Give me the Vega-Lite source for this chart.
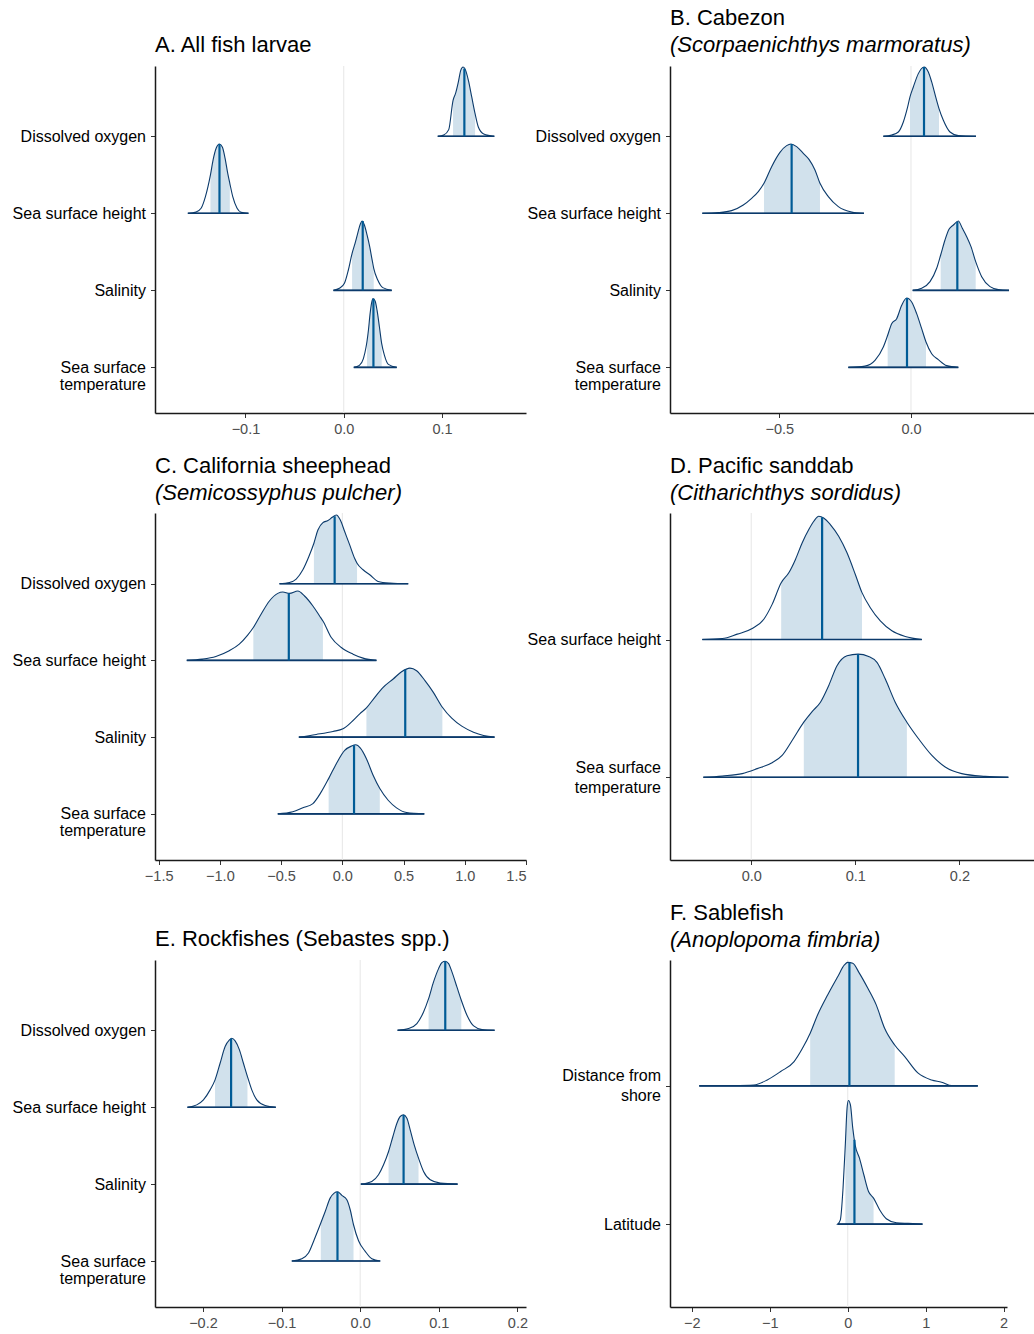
{
"$schema":"https://vega.github.io/schema/vega-lite/v6.json",
"padding":{"left":12,"top":6,"right":0,"bottom":0},
"background":"white",
"config":{
 "view":{"stroke":null},
 "font":"Liberation Sans",
 "axis":{"grid":false,"domainColor":"#1a1a1a","domainWidth":1.5,"tickColor":"#333333","tickWidth":1,"tickSize":4.5,"labelFont":"Liberation Sans"},
 "axisX":{"labelFontSize":14.5,"labelColor":"#4d4d4d","labelPadding":5},
 "axisY":{"labelFontSize":16,"labelColor":"#000000","labelPadding":5,"labelLineHeight":17},
 "title":{"anchor":"start","frame":"group","font":"Liberation Sans","fontSize":22,"fontWeight":"normal","color":"#000000","subtitleFont":"Liberation Sans","subtitleFontSize":22,"subtitleFontStyle":"italic","subtitleColor":"#000000","subtitlePadding":5,"offset":8}
},
"datasets":{
"curves":[
{"p":"A","k":4,"x":0.0956,"d":0,"in":0},{"p":"A","k":4,"x":0.1017,"d":0.017,"in":0},{"p":"A","k":4,"x":0.1068,"d":0.087,"in":0},{"p":"A","k":4,"x":0.1112,"d":0.468,"in":1},{"p":"A","k":4,"x":0.1139,"d":0.563,"in":1},{"p":"A","k":4,"x":0.1166,"d":0.706,"in":1},{"p":"A","k":4,"x":0.119,"d":0.857,"in":1},{"p":"A","k":4,"x":0.1214,"d":0.9,"in":1},{"p":"A","k":4,"x":0.1237,"d":0.866,"in":1},{"p":"A","k":4,"x":0.1268,"d":0.727,"in":1},{"p":"A","k":4,"x":0.1302,"d":0.511,"in":1},{"p":"A","k":4,"x":0.1336,"d":0.294,"in":1},{"p":"A","k":4,"x":0.1369,"d":0.121,"in":0},{"p":"A","k":4,"x":0.1424,"d":0.03,"in":0},{"p":"A","k":4,"x":0.1532,"d":0,"in":0},
{"p":"A","k":3,"x":-0.1586,"d":0,"in":0},{"p":"A","k":3,"x":-0.1502,"d":0.017,"in":0},{"p":"A","k":3,"x":-0.1451,"d":0.065,"in":0},{"p":"A","k":3,"x":-0.1407,"d":0.216,"in":0},{"p":"A","k":3,"x":-0.1356,"d":0.498,"in":1},{"p":"A","k":3,"x":-0.1329,"d":0.693,"in":1},{"p":"A","k":3,"x":-0.1298,"d":0.844,"in":1},{"p":"A","k":3,"x":-0.1264,"d":0.9,"in":1},{"p":"A","k":3,"x":-0.1234,"d":0.857,"in":1},{"p":"A","k":3,"x":-0.1207,"d":0.714,"in":1},{"p":"A","k":3,"x":-0.118,"d":0.519,"in":1},{"p":"A","k":3,"x":-0.1159,"d":0.39,"in":1},{"p":"A","k":3,"x":-0.1129,"d":0.216,"in":0},{"p":"A","k":3,"x":-0.1085,"d":0.065,"in":0},{"p":"A","k":3,"x":-0.1044,"d":0.013,"in":0},{"p":"A","k":3,"x":-0.0969,"d":0,"in":0},
{"p":"A","k":2,"x":-0.0105,"d":0,"in":0},{"p":"A","k":2,"x":-0.0044,"d":0.026,"in":0},{"p":"A","k":2,"x":0.0007,"d":0.091,"in":0},{"p":"A","k":2,"x":0.0047,"d":0.264,"in":0},{"p":"A","k":2,"x":0.0085,"d":0.481,"in":1},{"p":"A","k":2,"x":0.0115,"d":0.61,"in":1},{"p":"A","k":2,"x":0.0142,"d":0.74,"in":1},{"p":"A","k":2,"x":0.0169,"d":0.861,"in":1},{"p":"A","k":2,"x":0.0186,"d":0.9,"in":1},{"p":"A","k":2,"x":0.021,"d":0.848,"in":1},{"p":"A","k":2,"x":0.0237,"d":0.719,"in":1},{"p":"A","k":2,"x":0.0264,"d":0.567,"in":1},{"p":"A","k":2,"x":0.0292,"d":0.372,"in":1},{"p":"A","k":2,"x":0.0305,"d":0.286,"in":1},{"p":"A","k":2,"x":0.0346,"d":0.134,"in":0},{"p":"A","k":2,"x":0.0397,"d":0.035,"in":0},{"p":"A","k":2,"x":0.0488,"d":0,"in":0},
{"p":"A","k":1,"x":0.0102,"d":0,"in":0},{"p":"A","k":1,"x":0.0159,"d":0.026,"in":0},{"p":"A","k":1,"x":0.02,"d":0.113,"in":0},{"p":"A","k":1,"x":0.0227,"d":0.264,"in":0},{"p":"A","k":1,"x":0.0237,"d":0.342,"in":1},{"p":"A","k":1,"x":0.0251,"d":0.481,"in":1},{"p":"A","k":1,"x":0.0268,"d":0.697,"in":1},{"p":"A","k":1,"x":0.0285,"d":0.848,"in":1},{"p":"A","k":1,"x":0.0298,"d":0.892,"in":1},{"p":"A","k":1,"x":0.0319,"d":0.861,"in":1},{"p":"A","k":1,"x":0.0339,"d":0.74,"in":1},{"p":"A","k":1,"x":0.0363,"d":0.524,"in":1},{"p":"A","k":1,"x":0.0386,"d":0.307,"in":1},{"p":"A","k":1,"x":0.0414,"d":0.156,"in":0},{"p":"A","k":1,"x":0.0454,"d":0.039,"in":0},{"p":"A","k":1,"x":0.0539,"d":0,"in":0},

{"p":"B","k":4,"x":-0.1051,"d":0,"in":0},{"p":"B","k":4,"x":-0.0734,"d":0.017,"in":0},{"p":"B","k":4,"x":-0.0481,"d":0.056,"in":0},{"p":"B","k":4,"x":-0.0291,"d":0.186,"in":0},{"p":"B","k":4,"x":-0.0127,"d":0.381,"in":0},{"p":"B","k":4,"x":-0.0038,"d":0.511,"in":1},{"p":"B","k":4,"x":0.0089,"d":0.641,"in":1},{"p":"B","k":4,"x":0.0278,"d":0.814,"in":1},{"p":"B","k":4,"x":0.0494,"d":0.9,"in":1},{"p":"B","k":4,"x":0.0658,"d":0.835,"in":1},{"p":"B","k":4,"x":0.0785,"d":0.706,"in":1},{"p":"B","k":4,"x":0.0937,"d":0.511,"in":1},{"p":"B","k":4,"x":0.1063,"d":0.359,"in":1},{"p":"B","k":4,"x":0.1228,"d":0.208,"in":0},{"p":"B","k":4,"x":0.1481,"d":0.056,"in":0},{"p":"B","k":4,"x":0.1797,"d":0.009,"in":0},{"p":"B","k":4,"x":0.2468,"d":0,"in":0},
{"p":"B","k":3,"x":-0.7924,"d":0,"in":0},{"p":"B","k":3,"x":-0.7316,"d":0.009,"in":0},{"p":"B","k":3,"x":-0.681,"d":0.035,"in":0},{"p":"B","k":3,"x":-0.6367,"d":0.108,"in":0},{"p":"B","k":3,"x":-0.6051,"d":0.195,"in":0},{"p":"B","k":3,"x":-0.5797,"d":0.281,"in":0},{"p":"B","k":3,"x":-0.5582,"d":0.39,"in":1},{"p":"B","k":3,"x":-0.5291,"d":0.606,"in":1},{"p":"B","k":3,"x":-0.4975,"d":0.792,"in":1},{"p":"B","k":3,"x":-0.4722,"d":0.879,"in":1},{"p":"B","k":3,"x":-0.4557,"d":0.9,"in":1},{"p":"B","k":3,"x":-0.4342,"d":0.866,"in":1},{"p":"B","k":3,"x":-0.4089,"d":0.779,"in":1},{"p":"B","k":3,"x":-0.3873,"d":0.701,"in":1},{"p":"B","k":3,"x":-0.3646,"d":0.563,"in":1},{"p":"B","k":3,"x":-0.3456,"d":0.39,"in":1},{"p":"B","k":3,"x":-0.3139,"d":0.216,"in":0},{"p":"B","k":3,"x":-0.2759,"d":0.087,"in":0},{"p":"B","k":3,"x":-0.2253,"d":0.017,"in":0},{"p":"B","k":3,"x":-0.1785,"d":0,"in":0},
{"p":"B","k":2,"x":0.0063,"d":0,"in":0},{"p":"B","k":2,"x":0.0405,"d":0.026,"in":0},{"p":"B","k":2,"x":0.0722,"d":0.113,"in":0},{"p":"B","k":2,"x":0.0975,"d":0.286,"in":0},{"p":"B","k":2,"x":0.1127,"d":0.459,"in":1},{"p":"B","k":2,"x":0.1291,"d":0.654,"in":1},{"p":"B","k":2,"x":0.1443,"d":0.792,"in":1},{"p":"B","k":2,"x":0.1608,"d":0.848,"in":1},{"p":"B","k":2,"x":0.1797,"d":0.9,"in":1},{"p":"B","k":2,"x":0.1949,"d":0.805,"in":1},{"p":"B","k":2,"x":0.2114,"d":0.697,"in":1},{"p":"B","k":2,"x":0.2278,"d":0.567,"in":1},{"p":"B","k":2,"x":0.2456,"d":0.372,"in":1},{"p":"B","k":2,"x":0.2684,"d":0.177,"in":0},{"p":"B","k":2,"x":0.3,"d":0.048,"in":0},{"p":"B","k":2,"x":0.3316,"d":0.009,"in":0},{"p":"B","k":2,"x":0.3722,"d":0,"in":0},
{"p":"B","k":1,"x":-0.238,"d":0,"in":0},{"p":"B","k":1,"x":-0.1747,"d":0.017,"in":0},{"p":"B","k":1,"x":-0.1367,"d":0.091,"in":0},{"p":"B","k":1,"x":-0.1051,"d":0.264,"in":0},{"p":"B","k":1,"x":-0.0886,"d":0.416,"in":1},{"p":"B","k":1,"x":-0.0734,"d":0.567,"in":1},{"p":"B","k":1,"x":-0.0544,"d":0.632,"in":1},{"p":"B","k":1,"x":-0.0354,"d":0.805,"in":1},{"p":"B","k":1,"x":-0.0165,"d":0.9,"in":1},{"p":"B","k":1,"x":0.0025,"d":0.848,"in":1},{"p":"B","k":1,"x":0.0215,"d":0.697,"in":1},{"p":"B","k":1,"x":0.0405,"d":0.502,"in":1},{"p":"B","k":1,"x":0.057,"d":0.329,"in":1},{"p":"B","k":1,"x":0.0785,"d":0.177,"in":0},{"p":"B","k":1,"x":0.1038,"d":0.1,"in":0},{"p":"B","k":1,"x":0.1354,"d":0.022,"in":0},{"p":"B","k":1,"x":0.1797,"d":0,"in":0},

{"p":"C","k":4,"x":-0.5137,"d":0,"in":0},{"p":"C","k":4,"x":-0.4317,"d":0.017,"in":0},{"p":"C","k":4,"x":-0.377,"d":0.061,"in":0},{"p":"C","k":4,"x":-0.3224,"d":0.182,"in":0},{"p":"C","k":4,"x":-0.2732,"d":0.355,"in":0},{"p":"C","k":4,"x":-0.2322,"d":0.528,"in":1},{"p":"C","k":4,"x":-0.1995,"d":0.701,"in":1},{"p":"C","k":4,"x":-0.1585,"d":0.797,"in":1},{"p":"C","k":4,"x":-0.1175,"d":0.823,"in":1},{"p":"C","k":4,"x":-0.082,"d":0.866,"in":1},{"p":"C","k":4,"x":-0.0492,"d":0.896,"in":1},{"p":"C","k":4,"x":-0.0164,"d":0.831,"in":1},{"p":"C","k":4,"x":0.0191,"d":0.68,"in":1},{"p":"C","k":4,"x":0.0601,"d":0.506,"in":1},{"p":"C","k":4,"x":0.1011,"d":0.329,"in":1},{"p":"C","k":4,"x":0.1202,"d":0.268,"in":1},{"p":"C","k":4,"x":0.1694,"d":0.182,"in":0},{"p":"C","k":4,"x":0.224,"d":0.117,"in":0},{"p":"C","k":4,"x":0.2923,"d":0.03,"in":0},{"p":"C","k":4,"x":0.388,"d":0.009,"in":0},{"p":"C","k":4,"x":0.5383,"d":0,"in":0},
{"p":"C","k":3,"x":-1.2705,"d":0,"in":0},{"p":"C","k":3,"x":-1.1421,"d":0.017,"in":0},{"p":"C","k":3,"x":-1.0328,"d":0.052,"in":0},{"p":"C","k":3,"x":-0.9235,"d":0.126,"in":0},{"p":"C","k":3,"x":-0.8415,"d":0.212,"in":0},{"p":"C","k":3,"x":-0.7732,"d":0.329,"in":0},{"p":"C","k":3,"x":-0.7268,"d":0.429,"in":1},{"p":"C","k":3,"x":-0.6639,"d":0.602,"in":1},{"p":"C","k":3,"x":-0.5956,"d":0.775,"in":1},{"p":"C","k":3,"x":-0.5273,"d":0.874,"in":1},{"p":"C","k":3,"x":-0.4863,"d":0.892,"in":1},{"p":"C","k":3,"x":-0.4317,"d":0.874,"in":1},{"p":"C","k":3,"x":-0.3634,"d":0.905,"in":1},{"p":"C","k":3,"x":-0.3087,"d":0.84,"in":1},{"p":"C","k":3,"x":-0.2404,"d":0.71,"in":1},{"p":"C","k":3,"x":-0.1858,"d":0.58,"in":1},{"p":"C","k":3,"x":-0.1585,"d":0.515,"in":1},{"p":"C","k":3,"x":-0.0902,"d":0.299,"in":0},{"p":"C","k":3,"x":-0.0082,"d":0.169,"in":0},{"p":"C","k":3,"x":0.0874,"d":0.082,"in":0},{"p":"C","k":3,"x":0.1694,"d":0.03,"in":0},{"p":"C","k":3,"x":0.2787,"d":0,"in":0},
{"p":"C","k":2,"x":-0.3552,"d":0,"in":0},{"p":"C","k":2,"x":-0.2131,"d":0.035,"in":0},{"p":"C","k":2,"x":-0.0765,"d":0.074,"in":0},{"p":"C","k":2,"x":0.0055,"d":0.108,"in":0},{"p":"C","k":2,"x":0.0738,"d":0.195,"in":0},{"p":"C","k":2,"x":0.1421,"d":0.303,"in":0},{"p":"C","k":2,"x":0.1967,"d":0.381,"in":1},{"p":"C","k":2,"x":0.265,"d":0.519,"in":1},{"p":"C","k":2,"x":0.3333,"d":0.649,"in":1},{"p":"C","k":2,"x":0.4153,"d":0.758,"in":1},{"p":"C","k":2,"x":0.4836,"d":0.853,"in":1},{"p":"C","k":2,"x":0.5519,"d":0.9,"in":1},{"p":"C","k":2,"x":0.6066,"d":0.866,"in":1},{"p":"C","k":2,"x":0.6749,"d":0.736,"in":1},{"p":"C","k":2,"x":0.7432,"d":0.584,"in":1},{"p":"C","k":2,"x":0.8169,"d":0.39,"in":1},{"p":"C","k":2,"x":0.8934,"d":0.247,"in":0},{"p":"C","k":2,"x":0.9754,"d":0.143,"in":0},{"p":"C","k":2,"x":1.071,"d":0.065,"in":0},{"p":"C","k":2,"x":1.153,"d":0.022,"in":0},{"p":"C","k":2,"x":1.2432,"d":0,"in":0},
{"p":"C","k":1,"x":-0.5273,"d":0,"in":0},{"p":"C","k":1,"x":-0.4044,"d":0.026,"in":0},{"p":"C","k":1,"x":-0.3224,"d":0.078,"in":0},{"p":"C","k":1,"x":-0.2404,"d":0.134,"in":0},{"p":"C","k":1,"x":-0.1721,"d":0.286,"in":0},{"p":"C","k":1,"x":-0.112,"d":0.459,"in":1},{"p":"C","k":1,"x":-0.0492,"d":0.654,"in":1},{"p":"C","k":1,"x":0.0191,"d":0.827,"in":1},{"p":"C","k":1,"x":0.0738,"d":0.883,"in":1},{"p":"C","k":1,"x":0.1093,"d":0.9,"in":1},{"p":"C","k":1,"x":0.1475,"d":0.857,"in":1},{"p":"C","k":1,"x":0.1967,"d":0.719,"in":1},{"p":"C","k":1,"x":0.2514,"d":0.502,"in":1},{"p":"C","k":1,"x":0.306,"d":0.329,"in":1},{"p":"C","k":1,"x":0.3743,"d":0.177,"in":0},{"p":"C","k":1,"x":0.4426,"d":0.078,"in":0},{"p":"C","k":1,"x":0.5246,"d":0.017,"in":0},{"p":"C","k":1,"x":0.6694,"d":0,"in":0},

{"p":"D","k":2,"x":-0.047,"d":0,"in":0},{"p":"D","k":2,"x":-0.0278,"d":0.007,"in":0},{"p":"D","k":2,"x":-0.0134,"d":0.039,"in":0},{"p":"D","k":2,"x":0.001,"d":0.08,"in":0},{"p":"D","k":2,"x":0.0121,"d":0.147,"in":0},{"p":"D","k":2,"x":0.0201,"d":0.255,"in":0},{"p":"D","k":2,"x":0.0288,"d":0.412,"in":1},{"p":"D","k":2,"x":0.0361,"d":0.484,"in":1},{"p":"D","k":2,"x":0.0425,"d":0.581,"in":1},{"p":"D","k":2,"x":0.0489,"d":0.701,"in":1},{"p":"D","k":2,"x":0.0553,"d":0.798,"in":1},{"p":"D","k":2,"x":0.0601,"d":0.858,"in":1},{"p":"D","k":2,"x":0.0649,"d":0.894,"in":1},{"p":"D","k":2,"x":0.0696,"d":0.882,"in":1},{"p":"D","k":2,"x":0.076,"d":0.834,"in":1},{"p":"D","k":2,"x":0.084,"d":0.749,"in":1},{"p":"D","k":2,"x":0.092,"d":0.629,"in":1},{"p":"D","k":2,"x":0.1,"d":0.472,"in":1},{"p":"D","k":2,"x":0.1064,"d":0.34,"in":1},{"p":"D","k":2,"x":0.1144,"d":0.231,"in":0},{"p":"D","k":2,"x":0.124,"d":0.135,"in":0},{"p":"D","k":2,"x":0.1351,"d":0.063,"in":0},{"p":"D","k":2,"x":0.1479,"d":0.022,"in":0},{"p":"D","k":2,"x":0.1639,"d":0,"in":0},
{"p":"D","k":1,"x":-0.046,"d":0,"in":0},{"p":"D","k":1,"x":-0.0278,"d":0.01,"in":0},{"p":"D","k":1,"x":-0.0086,"d":0.027,"in":0},{"p":"D","k":1,"x":0.0058,"d":0.063,"in":0},{"p":"D","k":1,"x":0.0201,"d":0.106,"in":0},{"p":"D","k":1,"x":0.0297,"d":0.159,"in":0},{"p":"D","k":1,"x":0.0393,"d":0.267,"in":0},{"p":"D","k":1,"x":0.0505,"d":0.4,"in":1},{"p":"D","k":1,"x":0.0585,"d":0.477,"in":1},{"p":"D","k":1,"x":0.0665,"d":0.545,"in":1},{"p":"D","k":1,"x":0.0744,"d":0.665,"in":1},{"p":"D","k":1,"x":0.0824,"d":0.81,"in":1},{"p":"D","k":1,"x":0.092,"d":0.882,"in":1},{"p":"D","k":1,"x":0.1026,"d":0.894,"in":1},{"p":"D","k":1,"x":0.1128,"d":0.877,"in":1},{"p":"D","k":1,"x":0.1208,"d":0.834,"in":1},{"p":"D","k":1,"x":0.1288,"d":0.713,"in":1},{"p":"D","k":1,"x":0.1383,"d":0.545,"in":1},{"p":"D","k":1,"x":0.1495,"d":0.4,"in":1},{"p":"D","k":1,"x":0.1607,"d":0.28,"in":0},{"p":"D","k":1,"x":0.1735,"d":0.159,"in":0},{"p":"D","k":1,"x":0.1863,"d":0.075,"in":0},{"p":"D","k":1,"x":0.2022,"d":0.027,"in":0},{"p":"D","k":1,"x":0.2246,"d":0.007,"in":0},{"p":"D","k":1,"x":0.247,"d":0,"in":0},

{"p":"E","k":4,"x":0.0475,"d":0,"in":0},{"p":"E","k":4,"x":0.0615,"d":0.022,"in":0},{"p":"E","k":4,"x":0.0721,"d":0.087,"in":0},{"p":"E","k":4,"x":0.0806,"d":0.238,"in":0},{"p":"E","k":4,"x":0.087,"d":0.411,"in":1},{"p":"E","k":4,"x":0.0933,"d":0.628,"in":1},{"p":"E","k":4,"x":0.0997,"d":0.801,"in":1},{"p":"E","k":4,"x":0.1039,"d":0.879,"in":1},{"p":"E","k":4,"x":0.1082,"d":0.896,"in":1},{"p":"E","k":4,"x":0.1124,"d":0.866,"in":1},{"p":"E","k":4,"x":0.1167,"d":0.758,"in":1},{"p":"E","k":4,"x":0.123,"d":0.563,"in":1},{"p":"E","k":4,"x":0.1286,"d":0.39,"in":1},{"p":"E","k":4,"x":0.1358,"d":0.195,"in":0},{"p":"E","k":4,"x":0.1443,"d":0.056,"in":0},{"p":"E","k":4,"x":0.1549,"d":0.009,"in":0},{"p":"E","k":4,"x":0.171,"d":0,"in":0},
{"p":"E","k":3,"x":-0.2198,"d":0,"in":0},{"p":"E","k":3,"x":-0.2079,"d":0.03,"in":0},{"p":"E","k":3,"x":-0.1994,"d":0.095,"in":0},{"p":"E","k":3,"x":-0.1909,"d":0.225,"in":0},{"p":"E","k":3,"x":-0.1846,"d":0.355,"in":1},{"p":"E","k":3,"x":-0.1782,"d":0.571,"in":1},{"p":"E","k":3,"x":-0.1718,"d":0.788,"in":1},{"p":"E","k":3,"x":-0.1663,"d":0.874,"in":1},{"p":"E","k":3,"x":-0.1633,"d":0.896,"in":1},{"p":"E","k":3,"x":-0.1591,"d":0.861,"in":1},{"p":"E","k":3,"x":-0.1536,"d":0.745,"in":1},{"p":"E","k":3,"x":-0.1485,"d":0.571,"in":1},{"p":"E","k":3,"x":-0.1434,"d":0.398,"in":1},{"p":"E","k":3,"x":-0.1379,"d":0.225,"in":0},{"p":"E","k":3,"x":-0.1315,"d":0.095,"in":0},{"p":"E","k":3,"x":-0.1209,"d":0.022,"in":0},{"p":"E","k":3,"x":-0.1073,"d":0,"in":0},
{"p":"E","k":2,"x":0.0008,"d":0,"in":0},{"p":"E","k":2,"x":0.0148,"d":0.035,"in":0},{"p":"E","k":2,"x":0.0233,"d":0.121,"in":0},{"p":"E","k":2,"x":0.0297,"d":0.251,"in":0},{"p":"E","k":2,"x":0.0361,"d":0.424,"in":1},{"p":"E","k":2,"x":0.0416,"d":0.619,"in":1},{"p":"E","k":2,"x":0.0467,"d":0.792,"in":1},{"p":"E","k":2,"x":0.0509,"d":0.879,"in":1},{"p":"E","k":2,"x":0.0552,"d":0.9,"in":1},{"p":"E","k":2,"x":0.0594,"d":0.857,"in":1},{"p":"E","k":2,"x":0.0636,"d":0.706,"in":1},{"p":"E","k":2,"x":0.0687,"d":0.511,"in":1},{"p":"E","k":2,"x":0.0742,"d":0.338,"in":1},{"p":"E","k":2,"x":0.0806,"d":0.165,"in":0},{"p":"E","k":2,"x":0.0891,"d":0.056,"in":0},{"p":"E","k":2,"x":0.1018,"d":0.013,"in":0},{"p":"E","k":2,"x":0.1239,"d":0,"in":0},
{"p":"E","k":1,"x":-0.087,"d":0,"in":0},{"p":"E","k":1,"x":-0.0742,"d":0.03,"in":0},{"p":"E","k":1,"x":-0.0658,"d":0.104,"in":0},{"p":"E","k":1,"x":-0.0585,"d":0.277,"in":0},{"p":"E","k":1,"x":-0.0501,"d":0.494,"in":1},{"p":"E","k":1,"x":-0.0445,"d":0.645,"in":1},{"p":"E","k":1,"x":-0.0382,"d":0.818,"in":1},{"p":"E","k":1,"x":-0.0331,"d":0.883,"in":1},{"p":"E","k":1,"x":-0.0289,"d":0.9,"in":1},{"p":"E","k":1,"x":-0.0233,"d":0.853,"in":1},{"p":"E","k":1,"x":-0.017,"d":0.797,"in":1},{"p":"E","k":1,"x":-0.0127,"d":0.667,"in":1},{"p":"E","k":1,"x":-0.0085,"d":0.472,"in":1},{"p":"E","k":1,"x":-0.0021,"d":0.264,"in":0},{"p":"E","k":1,"x":0.0064,"d":0.126,"in":0},{"p":"E","k":1,"x":0.0148,"d":0.03,"in":0},{"p":"E","k":1,"x":0.0255,"d":0,"in":0},

{"p":"F","k":2,"x":-1.9054,"d":0,"in":0},{"p":"F","k":2,"x":-1.5054,"d":0.002,"in":0},{"p":"F","k":2,"x":-1.2043,"d":0.007,"in":0},{"p":"F","k":2,"x":-1.0323,"d":0.043,"in":0},{"p":"F","k":2,"x":-0.8602,"d":0.104,"in":0},{"p":"F","k":2,"x":-0.6882,"d":0.176,"in":0},{"p":"F","k":2,"x":-0.5806,"d":0.272,"in":0},{"p":"F","k":2,"x":-0.4817,"d":0.381,"in":1},{"p":"F","k":2,"x":-0.3871,"d":0.513,"in":1},{"p":"F","k":2,"x":-0.2581,"d":0.658,"in":1},{"p":"F","k":2,"x":-0.129,"d":0.79,"in":1},{"p":"F","k":2,"x":-0.043,"d":0.875,"in":1},{"p":"F","k":2,"x":0,"d":0.894,"in":1},{"p":"F","k":2,"x":0.0645,"d":0.887,"in":1},{"p":"F","k":2,"x":0.1505,"d":0.814,"in":1},{"p":"F","k":2,"x":0.2581,"d":0.706,"in":1},{"p":"F","k":2,"x":0.3656,"d":0.586,"in":1},{"p":"F","k":2,"x":0.4731,"d":0.417,"in":1},{"p":"F","k":2,"x":0.6022,"d":0.296,"in":1},{"p":"F","k":2,"x":0.7312,"d":0.212,"in":0},{"p":"F","k":2,"x":0.9032,"d":0.092,"in":0},{"p":"F","k":2,"x":1.0753,"d":0.043,"in":0},{"p":"F","k":2,"x":1.2043,"d":0.027,"in":0},{"p":"F","k":2,"x":1.3333,"d":0.002,"in":0},{"p":"F","k":2,"x":1.6688,"d":0,"in":0},
{"p":"F","k":1,"x":-0.129,"d":0,"in":0},{"p":"F","k":1,"x":-0.0946,"d":0.031,"in":0},{"p":"F","k":1,"x":-0.0602,"d":0.26,"in":0},{"p":"F","k":1,"x":-0.0301,"d":0.586,"in":1},{"p":"F","k":1,"x":-0.0086,"d":0.839,"in":1},{"p":"F","k":1,"x":0.0086,"d":0.894,"in":1},{"p":"F","k":1,"x":0.0344,"d":0.863,"in":1},{"p":"F","k":1,"x":0.0645,"d":0.694,"in":1},{"p":"F","k":1,"x":0.0946,"d":0.573,"in":1},{"p":"F","k":1,"x":0.1505,"d":0.477,"in":1},{"p":"F","k":1,"x":0.2065,"d":0.357,"in":1},{"p":"F","k":1,"x":0.2667,"d":0.236,"in":1},{"p":"F","k":1,"x":0.3312,"d":0.188,"in":1},{"p":"F","k":1,"x":0.4086,"d":0.104,"in":0},{"p":"F","k":1,"x":0.4946,"d":0.039,"in":0},{"p":"F","k":1,"x":0.6237,"d":0.01,"in":0},{"p":"F","k":1,"x":0.7742,"d":0.005,"in":0},{"p":"F","k":1,"x":0.9591,"d":0,"in":0}
],
"meds":[
{"p":"A","k":4,"x":0.1227,"d":0.88},{"p":"A","k":3,"x":-0.1264,"d":0.9},{"p":"A","k":2,"x":0.0193,"d":0.9},{"p":"A","k":1,"x":0.0302,"d":0.89},
{"p":"B","k":4,"x":0.0494,"d":0.9},{"p":"B","k":3,"x":-0.4532,"d":0.9},{"p":"B","k":2,"x":0.1759,"d":0.89},{"p":"B","k":1,"x":-0.0152,"d":0.9},
{"p":"C","k":4,"x":-0.0628,"d":0.88},{"p":"C","k":3,"x":-0.4372,"d":0.875},{"p":"C","k":2,"x":0.5137,"d":0.88},{"p":"C","k":1,"x":0.0956,"d":0.895},
{"p":"D","k":2,"x":0.0681,"d":0.887},{"p":"D","k":1,"x":0.1026,"d":0.894},
{"p":"E","k":4,"x":0.1082,"d":0.896},{"p":"E","k":3,"x":-0.1642,"d":0.892},{"p":"E","k":2,"x":0.0552,"d":0.9},{"p":"E","k":1,"x":-0.0289,"d":0.9},
{"p":"F","k":2,"x":0.0215,"d":0.892},{"p":"F","k":1,"x":0.086,"d":0.61}
]
},
"columns":2,
"bounds":"flush",
"spacing":{"row":100,"column":144},
"concat":[
{"width":371,"height":347,"title":{"text":"A. All fish larvae"},
 "layer":[
  {"data":{"values":[{"z":0}]},"mark":{"type":"rule","color":"#e6e6e6","strokeWidth":1},"encoding":{"x":{"field":"z","type":"quantitative","title":null}}},
  {"data":{"name":"curves"},"transform":[{"filter":"datum.p=='A' && datum.in==1"},{"calculate":"datum.k+datum.d","as":"top"}],"mark":{"type":"area","color":"#d1e1ec","interpolate":"monotone"},
   "encoding":{"x":{"field":"x","type":"quantitative","title":null,"scale":{"domain":[-0.192,0.1854],"nice":false,"zero":false},"axis":{"values":[-0.1,0,0.1],"format":".1f"}},
    "y":{"field":"top","type":"quantitative","title":null,"scale":{"domain":[0.407,4.913],"nice":false,"zero":false},"axis":{"values":[1,2,3,4],"labelExpr":"datum.value==4?'Dissolved oxygen':datum.value==3?'Sea surface height':datum.value==2?'Salinity':['Sea surface','temperature']"}},
    "y2":{"field":"k"},"detail":{"field":"k","type":"nominal"}}},
  {"data":{"name":"curves"},"transform":[{"filter":"datum.p=='A'"},{"calculate":"datum.k+datum.d","as":"top"}],"mark":{"type":"area","fill":"white","fillOpacity":0,"stroke":"#0b3a6b","strokeWidth":1.1,"interpolate":"monotone"},
   "encoding":{"x":{"field":"x","type":"quantitative","title":null},"y":{"field":"top","type":"quantitative","title":null},"y2":{"field":"k"},"detail":{"field":"k","type":"nominal"}}},
  {"data":{"name":"curves"},"transform":[{"filter":"datum.p=='A'"}],"mark":{"type":"rule","color":"#0b3a6b","strokeWidth":1.6},
   "encoding":{"x":{"aggregate":"min","field":"x","type":"quantitative","title":null},"x2":{"aggregate":"max","field":"x"},"y":{"field":"k","type":"quantitative","title":null}}},
  {"data":{"name":"meds"},"transform":[{"filter":"datum.p=='A'"},{"calculate":"datum.k+datum.d","as":"top"}],"mark":{"type":"rule","color":"#005b96","strokeWidth":2.2},
   "encoding":{"x":{"field":"x","type":"quantitative","title":null},"y":{"field":"k","type":"quantitative","title":null},"y2":{"field":"top"}}}
 ]},
{"width":364,"height":347,"title":{"text":"B. Cabezon","subtitle":"(Scorpaenichthys marmoratus)"},
 "layer":[
  {"data":{"values":[{"z":0}]},"mark":{"type":"rule","color":"#e6e6e6","strokeWidth":1},"encoding":{"x":{"field":"z","type":"quantitative","title":null}}},
  {"data":{"name":"curves"},"transform":[{"filter":"datum.p=='B' && datum.in==1"},{"calculate":"datum.k+datum.d","as":"top"}],"mark":{"type":"area","color":"#d1e1ec","interpolate":"monotone"},
   "encoding":{"x":{"field":"x","type":"quantitative","title":null,"scale":{"domain":[-0.915,0.467],"nice":false,"zero":false},"axis":{"values":[-0.5,0],"format":".1f"}},
    "y":{"field":"top","type":"quantitative","title":null,"scale":{"domain":[0.407,4.913],"nice":false,"zero":false},"axis":{"values":[1,2,3,4],"labelExpr":"datum.value==4?'Dissolved oxygen':datum.value==3?'Sea surface height':datum.value==2?'Salinity':['Sea surface','temperature']"}},
    "y2":{"field":"k"},"detail":{"field":"k","type":"nominal"}}},
  {"data":{"name":"curves"},"transform":[{"filter":"datum.p=='B'"},{"calculate":"datum.k+datum.d","as":"top"}],"mark":{"type":"area","fill":"white","fillOpacity":0,"stroke":"#0b3a6b","strokeWidth":1.1,"interpolate":"monotone"},
   "encoding":{"x":{"field":"x","type":"quantitative","title":null},"y":{"field":"top","type":"quantitative","title":null},"y2":{"field":"k"},"detail":{"field":"k","type":"nominal"}}},
  {"data":{"name":"curves"},"transform":[{"filter":"datum.p=='B'"}],"mark":{"type":"rule","color":"#0b3a6b","strokeWidth":1.6},
   "encoding":{"x":{"aggregate":"min","field":"x","type":"quantitative","title":null},"x2":{"aggregate":"max","field":"x"},"y":{"field":"k","type":"quantitative","title":null}}},
  {"data":{"name":"meds"},"transform":[{"filter":"datum.p=='B'"},{"calculate":"datum.k+datum.d","as":"top"}],"mark":{"type":"rule","color":"#005b96","strokeWidth":2.2},
   "encoding":{"x":{"field":"x","type":"quantitative","title":null},"y":{"field":"k","type":"quantitative","title":null},"y2":{"field":"top"}}}
 ]},
{"width":371,"height":347,"title":{"text":"C. California sheephead","subtitle":"(Semicossyphus pulcher)"},
 "layer":[
  {"data":{"values":[{"z":0}]},"mark":{"type":"rule","color":"#e6e6e6","strokeWidth":1},"encoding":{"x":{"field":"z","type":"quantitative","title":null}}},
  {"data":{"name":"curves"},"transform":[{"filter":"datum.p=='C' && datum.in==1"},{"calculate":"datum.k+datum.d","as":"top"}],"mark":{"type":"area","color":"#d1e1ec","interpolate":"monotone"},
   "encoding":{"x":{"field":"x","type":"quantitative","title":null,"scale":{"domain":[-1.53,1.5],"nice":false,"zero":false},"axis":{"values":[-1.5,-1,-0.5,0,0.5,1,1.5],"format":".1f"}},
    "y":{"field":"top","type":"quantitative","title":null,"scale":{"domain":[0.398,4.922],"nice":false,"zero":false},"axis":{"values":[1,2,3,4],"labelExpr":"datum.value==4?'Dissolved oxygen':datum.value==3?'Sea surface height':datum.value==2?'Salinity':['Sea surface','temperature']"}},
    "y2":{"field":"k"},"detail":{"field":"k","type":"nominal"}}},
  {"data":{"name":"curves"},"transform":[{"filter":"datum.p=='C'"},{"calculate":"datum.k+datum.d","as":"top"}],"mark":{"type":"area","fill":"white","fillOpacity":0,"stroke":"#0b3a6b","strokeWidth":1.1,"interpolate":"monotone"},
   "encoding":{"x":{"field":"x","type":"quantitative","title":null},"y":{"field":"top","type":"quantitative","title":null},"y2":{"field":"k"},"detail":{"field":"k","type":"nominal"}}},
  {"data":{"name":"curves"},"transform":[{"filter":"datum.p=='C'"}],"mark":{"type":"rule","color":"#0b3a6b","strokeWidth":1.6},
   "encoding":{"x":{"aggregate":"min","field":"x","type":"quantitative","title":null},"x2":{"aggregate":"max","field":"x"},"y":{"field":"k","type":"quantitative","title":null}}},
  {"data":{"name":"meds"},"transform":[{"filter":"datum.p=='C'"},{"calculate":"datum.k+datum.d","as":"top"}],"mark":{"type":"rule","color":"#005b96","strokeWidth":2.2},
   "encoding":{"x":{"field":"x","type":"quantitative","title":null},"y":{"field":"k","type":"quantitative","title":null},"y2":{"field":"top"}}}
 ]},
{"width":364,"height":347,"title":{"text":"D. Pacific sanddab","subtitle":"(Citharichthys sordidus)"},
 "layer":[
  {"data":{"values":[{"z":0}]},"mark":{"type":"rule","color":"#e6e6e6","strokeWidth":1},"encoding":{"x":{"field":"z","type":"quantitative","title":null}}},
  {"data":{"name":"curves"},"transform":[{"filter":"datum.p=='D' && datum.in==1"},{"calculate":"datum.k+datum.d","as":"top"}],"mark":{"type":"area","color":"#d1e1ec","interpolate":"monotone"},
   "encoding":{"x":{"field":"x","type":"quantitative","title":null,"scale":{"domain":[-0.078,0.2716],"nice":false,"zero":false},"axis":{"values":[0,0.1,0.2],"format":".1f"}},
    "y":{"field":"top","type":"quantitative","title":null,"scale":{"domain":[0.4,2.918],"nice":false,"zero":false},"axis":{"values":[1,2],"labelLineHeight":20,"labelOffset":{"condition":{"test":"datum.value==1","value":-10},"value":0},"labelExpr":"datum.value==2?'Sea surface height':['Sea surface','temperature']"}},
    "y2":{"field":"k"},"detail":{"field":"k","type":"nominal"}}},
  {"data":{"name":"curves"},"transform":[{"filter":"datum.p=='D'"},{"calculate":"datum.k+datum.d","as":"top"}],"mark":{"type":"area","fill":"white","fillOpacity":0,"stroke":"#0b3a6b","strokeWidth":1.1,"interpolate":"monotone"},
   "encoding":{"x":{"field":"x","type":"quantitative","title":null},"y":{"field":"top","type":"quantitative","title":null},"y2":{"field":"k"},"detail":{"field":"k","type":"nominal"}}},
  {"data":{"name":"curves"},"transform":[{"filter":"datum.p=='D'"}],"mark":{"type":"rule","color":"#0b3a6b","strokeWidth":1.6},
   "encoding":{"x":{"aggregate":"min","field":"x","type":"quantitative","title":null},"x2":{"aggregate":"max","field":"x"},"y":{"field":"k","type":"quantitative","title":null}}},
  {"data":{"name":"meds"},"transform":[{"filter":"datum.p=='D'"},{"calculate":"datum.k+datum.d","as":"top"}],"mark":{"type":"rule","color":"#005b96","strokeWidth":2.2},
   "encoding":{"x":{"field":"x","type":"quantitative","title":null},"y":{"field":"k","type":"quantitative","title":null},"y2":{"field":"top"}}}
 ]},
{"width":371,"height":347,"title":{"text":"E. Rockfishes (Sebastes spp.)"},
 "layer":[
  {"data":{"values":[{"z":0}]},"mark":{"type":"rule","color":"#e6e6e6","strokeWidth":1},"encoding":{"x":{"field":"z","type":"quantitative","title":null}}},
  {"data":{"name":"curves"},"transform":[{"filter":"datum.p=='E' && datum.in==1"},{"calculate":"datum.k+datum.d","as":"top"}],"mark":{"type":"area","color":"#d1e1ec","interpolate":"monotone"},
   "encoding":{"x":{"field":"x","type":"quantitative","title":null,"scale":{"domain":[-0.261,0.2109],"nice":false,"zero":false},"axis":{"values":[-0.2,-0.1,0,0.1,0.2],"format":".1f"}},
    "y":{"field":"top","type":"quantitative","title":null,"scale":{"domain":[0.403,4.913],"nice":false,"zero":false},"axis":{"values":[1,2,3,4],"labelExpr":"datum.value==4?'Dissolved oxygen':datum.value==3?'Sea surface height':datum.value==2?'Salinity':['Sea surface','temperature']"}},
    "y2":{"field":"k"},"detail":{"field":"k","type":"nominal"}}},
  {"data":{"name":"curves"},"transform":[{"filter":"datum.p=='E'"},{"calculate":"datum.k+datum.d","as":"top"}],"mark":{"type":"area","fill":"white","fillOpacity":0,"stroke":"#0b3a6b","strokeWidth":1.1,"interpolate":"monotone"},
   "encoding":{"x":{"field":"x","type":"quantitative","title":null},"y":{"field":"top","type":"quantitative","title":null},"y2":{"field":"k"},"detail":{"field":"k","type":"nominal"}}},
  {"data":{"name":"curves"},"transform":[{"filter":"datum.p=='E'"}],"mark":{"type":"rule","color":"#0b3a6b","strokeWidth":1.6},
   "encoding":{"x":{"aggregate":"min","field":"x","type":"quantitative","title":null},"x2":{"aggregate":"max","field":"x"},"y":{"field":"k","type":"quantitative","title":null}}},
  {"data":{"name":"meds"},"transform":[{"filter":"datum.p=='E'"},{"calculate":"datum.k+datum.d","as":"top"}],"mark":{"type":"rule","color":"#005b96","strokeWidth":2.2},
   "encoding":{"x":{"field":"x","type":"quantitative","title":null},"y":{"field":"k","type":"quantitative","title":null},"y2":{"field":"top"}}}
 ]},
{"width":337,"height":347,"title":{"text":"F. Sablefish","subtitle":"(Anoplopoma fimbria)"},
 "layer":[
  {"data":{"values":[{"z":0}]},"mark":{"type":"rule","color":"#e6e6e6","strokeWidth":1},"encoding":{"x":{"field":"z","type":"quantitative","title":null}}},
  {"data":{"name":"curves"},"transform":[{"filter":"datum.p=='F' && datum.in==1"},{"calculate":"datum.k+datum.d","as":"top"}],"mark":{"type":"area","color":"#d1e1ec","interpolate":"monotone"},
   "encoding":{"x":{"field":"x","type":"quantitative","title":null,"scale":{"domain":[-2.28,2.043],"nice":false,"zero":false},"axis":{"values":[-2,-1,0,1,2],"format":"d"}},
    "y":{"field":"top","type":"quantitative","title":null,"scale":{"domain":[0.4,2.911],"nice":false,"zero":false},"axis":{"values":[1,2],"labelLineHeight":20,"labelOffset":{"condition":{"test":"datum.value==2","value":-10},"value":0},"labelExpr":"datum.value==2?['Distance from','shore']:'Latitude'"}},
    "y2":{"field":"k"},"detail":{"field":"k","type":"nominal"}}},
  {"data":{"name":"curves"},"transform":[{"filter":"datum.p=='F'"},{"calculate":"datum.k+datum.d","as":"top"}],"mark":{"type":"area","fill":"white","fillOpacity":0,"stroke":"#0b3a6b","strokeWidth":1.1,"interpolate":"monotone"},
   "encoding":{"x":{"field":"x","type":"quantitative","title":null},"y":{"field":"top","type":"quantitative","title":null},"y2":{"field":"k"},"detail":{"field":"k","type":"nominal"}}},
  {"data":{"name":"curves"},"transform":[{"filter":"datum.p=='F'"}],"mark":{"type":"rule","color":"#0b3a6b","strokeWidth":1.6},
   "encoding":{"x":{"aggregate":"min","field":"x","type":"quantitative","title":null},"x2":{"aggregate":"max","field":"x"},"y":{"field":"k","type":"quantitative","title":null}}},
  {"data":{"name":"meds"},"transform":[{"filter":"datum.p=='F'"},{"calculate":"datum.k+datum.d","as":"top"}],"mark":{"type":"rule","color":"#005b96","strokeWidth":2.2},
   "encoding":{"x":{"field":"x","type":"quantitative","title":null},"y":{"field":"k","type":"quantitative","title":null},"y2":{"field":"top"}}}
 ]}
]
}
